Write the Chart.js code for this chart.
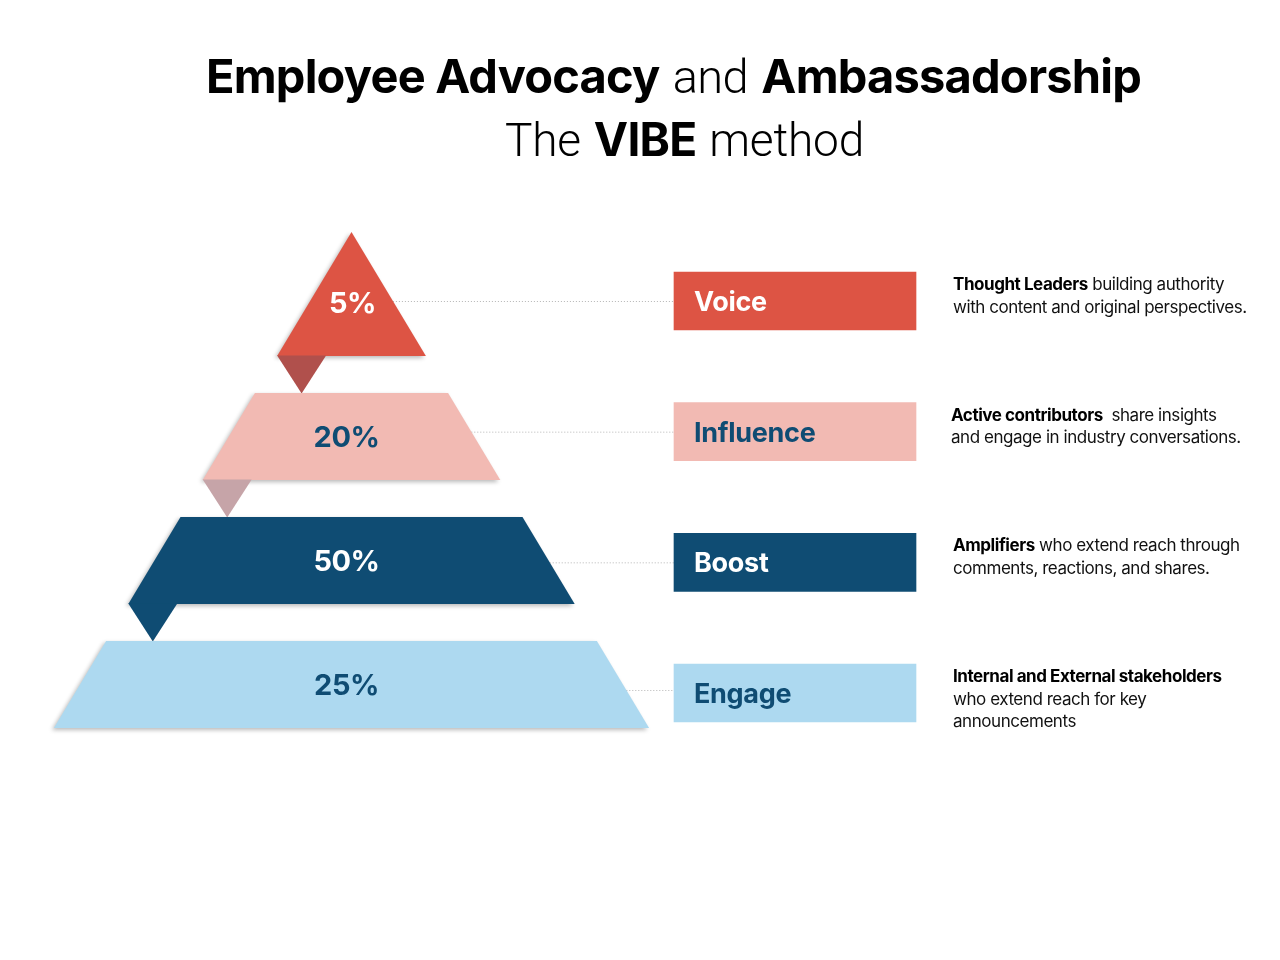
<!DOCTYPE html>
<html>
<head>
<meta charset="utf-8">
<script src="https://cdn.jsdelivr.net/npm/chart.js@4.4.1/dist/chart.umd.min.js"></script>
<style>
  html, body { margin: 0; padding: 0; background: #fff; }
  #wrap { position: relative; width: 1280px; height: 960px; overflow: hidden; font-family: Inter, "Noto Sans", sans-serif; color: #000; }
  #vibeChart { position: absolute; left: 0; top: 0; }
  .title { position: absolute; left: 0; text-align: center; white-space: nowrap; line-height: 1; }
  .title b { font-weight: 700; letter-spacing: -0.8px; }
  .title .lt { font-family: Roboto, Inter, sans-serif; font-weight: 300; letter-spacing: -0.6px; }
  .t1 { top: 52px; width: 1347px; font-size: 47px; }
  .t2 { top: 116px; width: 1369px; font-size: 46px; }
  .t2 .lt { letter-spacing: -0.2px; }
  .desc { position: absolute; font-size: 17px; line-height: 22.7px; white-space: pre; letter-spacing: -0.45px; color: #111; }
  .desc b { font-weight: 700; color: #000; }
</style>
</head>
<body>
<div id="wrap">
  <canvas id="vibeChart" width="1280" height="960"></canvas>
  <div class="title t1"><b>Employee Advocacy</b> <span class="lt">and</span> <b>Ambassadorship</b></div>
  <div class="title t2"><span class="lt">The</span> <b>VIBE</b> <span class="lt">method</span></div>
</div>
<script>
const levels = ["Voice", "Influence", "Boost", "Engage"];
const shares = [5, 20, 50, 25];
const leads = ["Thought Leaders", "Active contributors", "Amplifiers", "Internal and External stakeholders"];
const details = [
    " building authority\nwith content and original perspectives.",
    "  share insights\nand engage in industry conversations.",
    " who extend reach through\ncomments, reactions, and shares.",
    "\nwho extend reach for key\nannouncements"
];

const tierColors = ["#DD5444", "#F2BAB3", "#0F4C73", "#ADD9F0"];
const flapColors = ["#B0504C", "#C6A4A8", "#0F4C73", null];
const labelColors = ["#FFFFFF", "#0F4C73", "#FFFFFF", "#0F4C73"];

// layout, in page units (the scales map 1 unit = 1 px)
const PYR = { apexX: 351.5, apexY: 232, slope: 0.6, step: 124, band: 87, flapW: 49 };
const BOX = { left: 674, width: 242, top: 272, step: 130.67, height: 58, pad: 20 };
const DESC_LEFT = 953;

function tierDepths(i) {
    const bottom = PYR.step * (i + 1);
    return { top: i === 0 ? 0 : bottom - PYR.band, bottom: bottom };
}
function boxMid(i) { return BOX.top + i * BOX.step + BOX.height / 2; }

const vibePlugin = {
    id: 'vibePyramid',
    beforeDatasetsDraw(chart) {
        const c = chart.ctx, xs = chart.scales.x, ys = chart.scales.y;
        const px = v => xs.getPixelForValue(v), py = v => ys.getPixelForValue(v);
        const half = d => PYR.slope * d;

        // dotted leader lines from the pyramid edge to the label boxes
        c.save();
        c.strokeStyle = '#b5b5b5';
        c.lineWidth = 1;
        c.setLineDash([1, 2]);
        levels.forEach((l, i) => {
            const ly = boxMid(i) - (i === 3 ? 3 : 0);
            c.beginPath();
            c.moveTo(px(PYR.apexX + half(ly - PYR.apexY)), py(ly) + 0.5);
            c.lineTo(px(BOX.left), py(ly) + 0.5);
            c.stroke();
        });
        c.restore();

        levels.forEach((l, i) => {
            const d = tierDepths(i);
            const tl = PYR.apexX - half(d.top), tr = PYR.apexX + half(d.top);
            const bl = PYR.apexX - half(d.bottom), br = PYR.apexX + half(d.bottom);
            c.save();
            c.shadowColor = 'rgba(0,0,0,0.28)';
            c.shadowBlur = 4;
            c.shadowOffsetX = -2;
            c.shadowOffsetY = 2;
            c.fillStyle = tierColors[i];
            c.beginPath();
            c.moveTo(px(tl), py(PYR.apexY + d.top));
            c.lineTo(px(tr), py(PYR.apexY + d.top));
            c.lineTo(px(br), py(PYR.apexY + d.bottom));
            c.lineTo(px(bl), py(PYR.apexY + d.bottom));
            c.closePath();
            c.fill();
            c.restore();

            if (flapColors[i]) {
                const next = tierDepths(i + 1);
                c.fillStyle = flapColors[i];
                c.beginPath();
                c.moveTo(px(bl), py(PYR.apexY + d.bottom) - 0.5);
                c.lineTo(px(bl + PYR.flapW), py(PYR.apexY + d.bottom) - 0.5);
                c.lineTo(px(bl + PYR.flapW / 2), py(PYR.apexY + next.top) + 0.5);
                c.closePath();
                c.fill();
            }

            // share label
            const mid = i === 0 ? d.bottom * 0.57 : (d.top + d.bottom) / 2;
            c.fillStyle = labelColors[i];
            c.font = '700 29px Inter, "Noto Sans", sans-serif';
            c.letterSpacing = '-0.5px';
            c.textAlign = 'center';
            c.textBaseline = 'alphabetic';
            c.fillText(shares[i] + '%', px(PYR.apexX - (i === 0 ? -1 : 5)), py(PYR.apexY + mid) + 10.5);
        });
    },
    afterDatasetsDraw(chart) {
        const c = chart.ctx;
        const meta = chart.getDatasetMeta(0);
        c.save();
        c.font = '700 27px Inter, "Noto Sans", sans-serif';
        c.letterSpacing = '-0.3px';
        c.textAlign = 'left';
        c.textBaseline = 'alphabetic';
        meta.data.forEach((bar, i) => {
            const p = bar.getProps(['x', 'y', 'base'], true);
            c.fillStyle = labelColors[i];
            c.fillText(levels[i], Math.min(p.x, p.base) + BOX.pad, p.y + 10);
        });
        c.restore();
    }
};

const ctx = document.getElementById('vibeChart').getContext('2d');
const chart = new Chart(ctx, {
    type: 'bar',
    data: {
        labels: levels,
        datasets: [{
            data: levels.map((l, i) => ({ x: [BOX.left, BOX.left + BOX.width], y: boxMid(i) })),
            backgroundColor: tierColors,
            borderWidth: 0,
            barThickness: BOX.height
        }]
    },
    options: {
        indexAxis: 'y',
        responsive: false,
        animation: false,
        events: [],
        layout: { padding: 0 },
        plugins: { legend: { display: false }, tooltip: { enabled: false } },
        scales: {
            x: { type: 'linear', min: 0, max: 1280, offset: false, display: false },
            y: { type: 'linear', min: 0, max: 960, reverse: true, offset: false, display: false }
        }
    },
    plugins: [vibePlugin]
});

// role descriptions beside each label box
const wrap = document.getElementById('wrap');
levels.forEach((l, i) => {
    const div = document.createElement('div');
    div.className = 'desc';
    div.style.left = chart.scales.x.getPixelForValue(DESC_LEFT - (i === 1 ? 2 : 0)) + 'px';
    div.style.top = (chart.scales.y.getPixelForValue(BOX.top + i * BOX.step) + 1) + 'px';
    const b = document.createElement('b');
    b.textContent = leads[i];
    div.appendChild(b);
    div.appendChild(document.createTextNode(details[i]));
    wrap.appendChild(div);
});
</script>
</body>
</html>
